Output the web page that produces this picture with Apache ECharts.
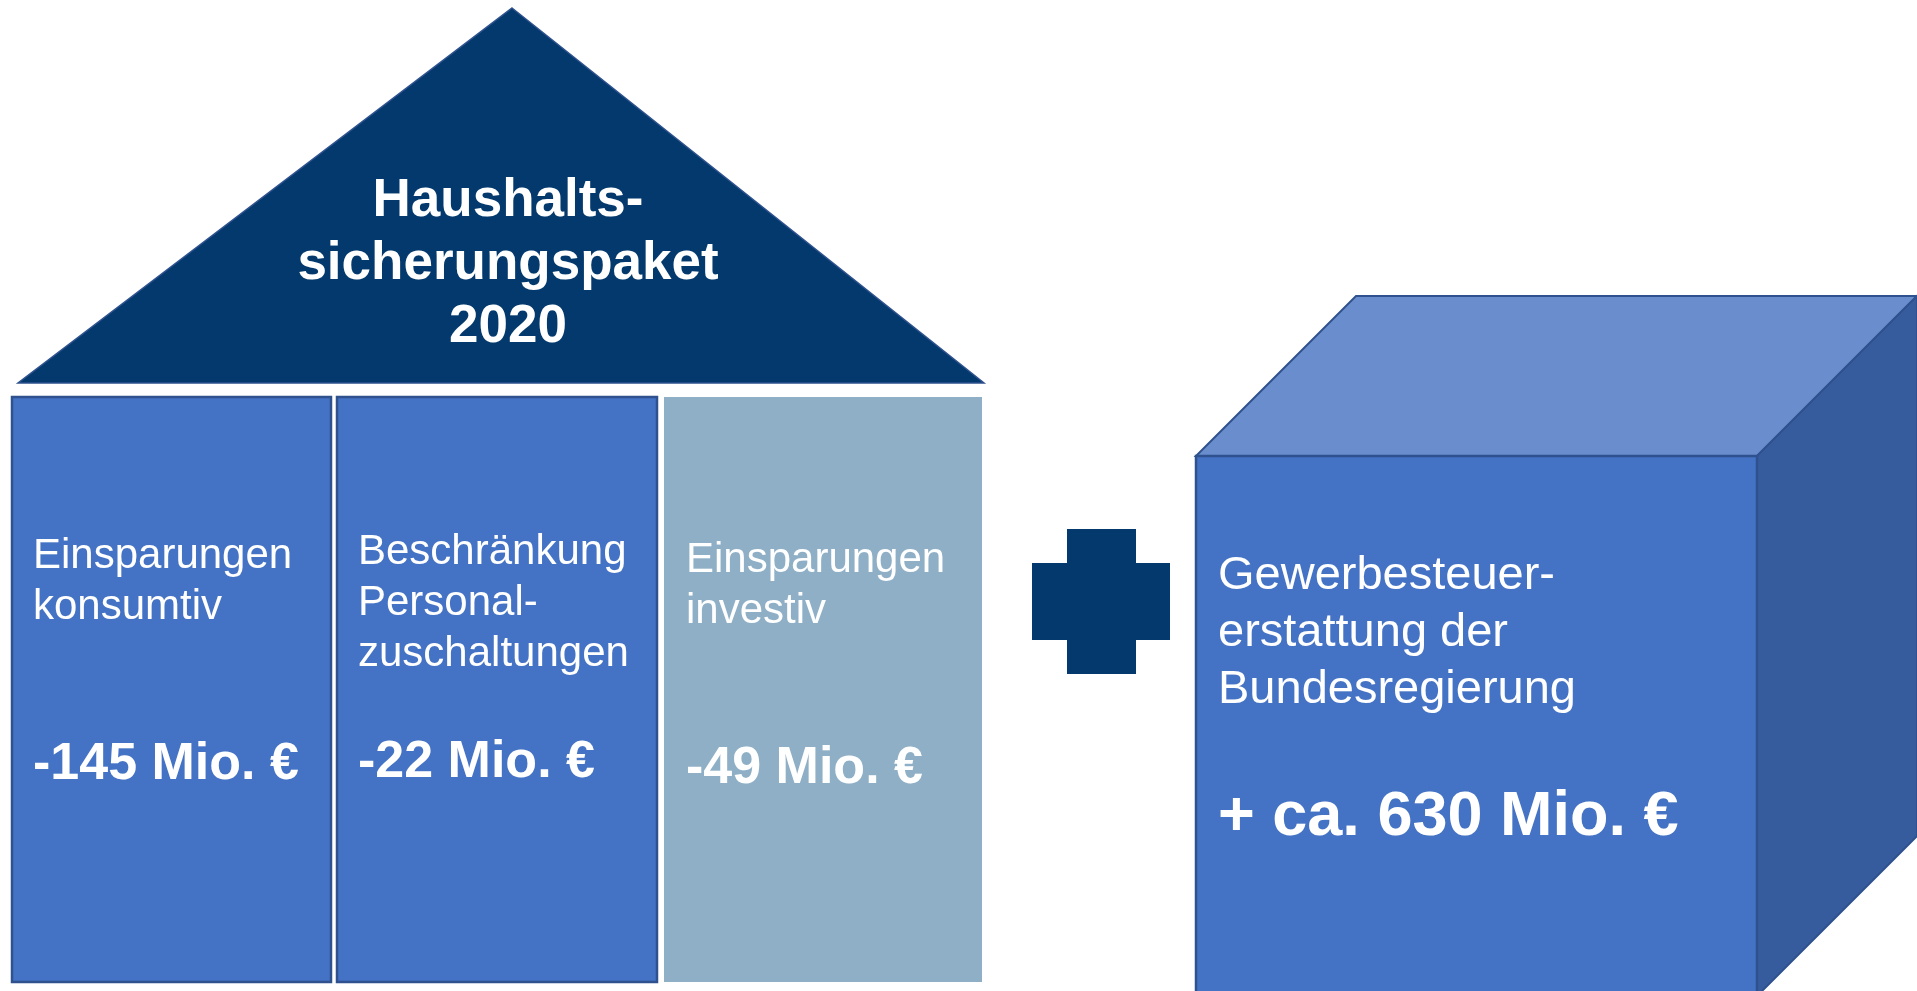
<!DOCTYPE html>
<html>
<head>
<meta charset="utf-8">
<script src="https://cdn.jsdelivr.net/npm/echarts@6/dist/echarts.min.js"></script>
<style>
html,body{margin:0;padding:0;background:#fff;}
#main{width:1917px;height:991px;}
</style>
</head>
<body>
<div id="main"></div>
<script>
// ---- data ----
var titleText = "Haushalts-\nsicherungspaket\n2020";
var pillarLabels = ["Einsparungen\nkonsumtiv", "Beschränkung\nPersonal-\nzuschaltungen", "Einsparungen\ninvestiv"];
var pillarValues = [-145, -22, -49];
var refundLabel = "Gewerbesteuer-\nerstattung der\nBundesregierung";
var refundValue = 630;
var unit = "Mio. €";

// ---- layout / style ----
var FONT = '"Liberation Sans", Arial, sans-serif';
var NAVY = '#03396C';
var BLUE = '#4472C4';
var BORDER = '#2F528F';
var LIGHT = '#8EAFC6';
var pillarRects = [
  {x: 12, w: 319, fill: BLUE, stroke: BORDER},
  {x: 337, w: 320, fill: BLUE, stroke: BORDER},
  {x: 664, w: 318, fill: LIGHT, stroke: null}
];
var pillarTop = 397, pillarBottom = 982;
var labelTops = [531, 527, 535];
var valueTops = [739, 737, 743];
var textX = [33, 358, 686];

var chart = echarts.init(document.getElementById('main'), null, {renderer: 'canvas'});
var g = [];

// roof
g.push({
  type: 'polygon',
  shape: {points: [[512, 8], [984, 383], [18, 383]]},
  style: {fill: NAVY, stroke: '#2F528F', lineWidth: 1.5}
});
g.push({
  type: 'text',
  style: {
    text: titleText, x: 508, y: 170, align: 'center', verticalAlign: 'top',
    fill: '#fff', font: 'bold 53px ' + FONT, lineHeight: 63
  }
});

// pillars
pillarRects.forEach(function (p, i) {
  g.push({
    type: 'rect',
    shape: {x: p.x, y: pillarTop, width: p.w, height: pillarBottom - pillarTop},
    style: p.stroke ? {fill: p.fill, stroke: p.stroke, lineWidth: 2.5} : {fill: p.fill}
  });
  g.push({
    type: 'text',
    style: {
      text: pillarLabels[i], x: textX[i], y: labelTops[i], verticalAlign: 'top',
      fill: '#fff', font: '42px ' + FONT, lineHeight: 51
    }
  });
  g.push({
    type: 'text',
    style: {
      text: pillarValues[i] + ' ' + unit, x: textX[i], y: valueTops[i], verticalAlign: 'top',
      fill: '#fff', font: 'bold 52px ' + FONT, lineHeight: 52
    }
  });
});

// plus sign
g.push({type: 'rect', shape: {x: 1032, y: 563, width: 138, height: 77}, style: {fill: NAVY}});
g.push({type: 'rect', shape: {x: 1067, y: 529, width: 69, height: 145}, style: {fill: NAVY}});

// cube
var fx0 = 1196, fy0 = 456, fx1 = 1757, fy1 = 996, d = 160;
g.push({
  type: 'polygon',
  shape: {points: [[fx0, fy0], [fx0 + d, fy0 - d], [fx1 + d, fy0 - d], [fx1, fy0]]},
  style: {fill: '#6A8ECD', stroke: BORDER, lineWidth: 2}
});
g.push({
  type: 'polygon',
  shape: {points: [[fx1, fy0], [fx1 + d, fy0 - d], [fx1 + d, fy1 - d], [fx1, fy1]]},
  style: {fill: '#375C9D', stroke: BORDER, lineWidth: 2}
});
g.push({
  type: 'rect',
  shape: {x: fx0, y: fy0, width: fx1 - fx0, height: fy1 - fy0},
  style: {fill: BLUE, stroke: BORDER, lineWidth: 2.5}
});
g.push({
  type: 'text',
  style: {
    text: refundLabel, x: 1218, y: 548, verticalAlign: 'top',
    fill: '#fff', font: '47px ' + FONT, lineHeight: 57
  }
});
g.push({
  type: 'text',
  style: {
    text: '+ ca. ' + refundValue + ' ' + unit, x: 1218, y: 786, verticalAlign: 'top',
    fill: '#fff', font: 'bold 63px ' + FONT, lineHeight: 63
  }
});

chart.setOption({
  animation: false,
  backgroundColor: '#ffffff',
  graphic: {elements: g}
});
</script>
</body>
</html>
